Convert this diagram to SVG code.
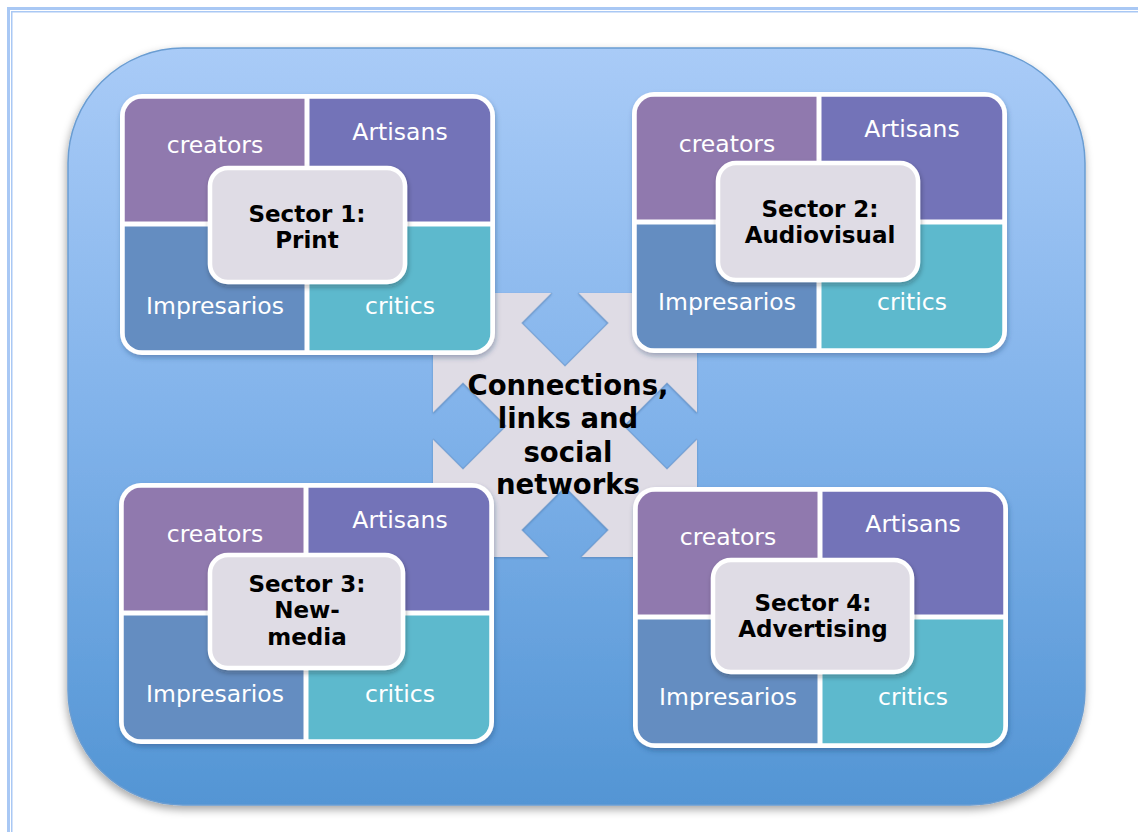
<svg xmlns="http://www.w3.org/2000/svg" xmlns:xlink="http://www.w3.org/1999/xlink" width="1138" height="832" viewBox="0 0 1138 832">
<style>
.lbl{font-family:"DejaVu Sans","Verdana",sans-serif;font-size:23.5px;fill:#ffffff;text-anchor:middle}
.sec{font-family:"DejaVu Sans","Verdana",sans-serif;font-size:23px;font-weight:bold;fill:#000000;text-anchor:middle}
.mid{font-family:"DejaVu Sans","Verdana",sans-serif;font-size:27.5px;font-weight:bold;fill:#000000;text-anchor:middle}
.cbox{fill:#dfdce5;stroke:#ffffff;stroke-width:4.5}
.frame{fill:#a9c8f4}
.notch{fill:none;stroke:#5f8fc6;stroke-width:1.2;stroke-opacity:0.55}
</style>
<defs>
<linearGradient id="bgGrad" gradientUnits="userSpaceOnUse" x1="0" y1="48" x2="0" y2="805">
<stop offset="0" stop-color="#a9cbf7"/>
<stop offset="0.5" stop-color="#80b2ea"/>
<stop offset="1" stop-color="#5395d4"/>
</linearGradient>
<filter id="bgShadow" x="-5%" y="-5%" width="110%" height="112%">
<feDropShadow dx="-1" dy="4" stdDeviation="4" flood-color="#000" flood-opacity="0.35"/>
</filter>
<filter id="cardShadow" x="-5%" y="-5%" width="112%" height="115%">
<feDropShadow dx="1" dy="3" stdDeviation="2.5" flood-color="#1a3a66" flood-opacity="0.35"/>
</filter>
<filter id="boxShadow" x="-10%" y="-10%" width="125%" height="130%">
<feDropShadow dx="1" dy="3" stdDeviation="2.5" flood-color="#222" flood-opacity="0.3"/>
</filter>
<filter id="hubShadow" x="-5%" y="-5%" width="110%" height="110%">
<feDropShadow dx="0" dy="1" stdDeviation="1.2" flood-color="#1a3a66" flood-opacity="0.3"/>
</filter>
<clipPath id="cardClip" clipPathUnits="userSpaceOnUse">
<rect x="4.5" y="4.5" width="366" height="252" rx="18"/>
</clipPath>
<g id="cardBase">
<rect x="0" y="0" width="375" height="261" rx="22" fill="#ffffff" filter="url(#cardShadow)"/>
<g clip-path="url(#cardClip)">
<rect x="4.5" y="4.5" width="180" height="123" fill="#9079ae"/>
<rect x="189.5" y="4.5" width="181" height="123" fill="#7373b8"/>
<rect x="4.5" y="132.5" width="180" height="124" fill="#648dc1"/>
<rect x="189.5" y="132.5" width="181" height="124" fill="#5db9cd"/>
</g>
</g>
</defs>

<g id="page-frame">
<rect class="frame" x="7" y="7" width="1131" height="3"/>
<rect class="frame" x="11" y="11" width="1127" height="1.5"/>
<rect class="frame" x="7" y="7" width="3" height="825"/>
<rect class="frame" x="11" y="11" width="1.5" height="821"/>
</g>

<g id="background">
<rect x="68" y="48" width="1017" height="757" rx="115" fill="url(#bgGrad)" stroke="#6a9dd2" stroke-width="1.5" filter="url(#bgShadow)"/>
</g>

<g id="hub">
<polygon fill="#dfdce5" filter="url(#hubShadow)" points="433,293 552,293 522,323 565,366 608,323 578,293 697,293 697,413 667,383 624,426 667,469 697,439 697,557 581,557 608,530 565,487 522,530 549,557 433,557 433,439 463,469 506,426 463,383 433,413"/>
<polyline class="notch" points="552,293 522,323 565,366 608,323 578,293"/>
<polyline class="notch" points="697,413 667,383 624,426 667,469 697,439"/>
<polyline class="notch" points="581,557 608,530 565,487 522,530 549,557"/>
<polyline class="notch" points="433,439 463,469 506,426 463,383 433,413"/>
<text class="mid" x="568" y="395">Connections,</text>
<text class="mid" x="568" y="428">links and</text>
<text class="mid" x="568" y="462">social</text>
<text class="mid" x="568" y="494">networks</text>
</g>

<g id="sector1" transform="translate(120,94)">
<use xlink:href="#cardBase"/>
<text class="lbl" x="95" y="59">creators</text>
<text class="lbl" x="280" y="46">Artisans</text>
<text class="lbl" x="95" y="220">Impresarios</text>
<text class="lbl" x="280" y="220">critics</text>
<rect class="cbox" x="90" y="74" width="195" height="114" rx="18" filter="url(#boxShadow)"/>
<text class="sec" x="187" y="128">Sector 1:</text>
<text class="sec" x="187" y="154">Print</text>
</g>

<g id="sector2" transform="translate(632,92)">
<use xlink:href="#cardBase"/>
<text class="lbl" x="95" y="60">creators</text>
<text class="lbl" x="280" y="45">Artisans</text>
<text class="lbl" x="95" y="218">Impresarios</text>
<text class="lbl" x="280" y="218">critics</text>
<rect class="cbox" x="86" y="71" width="200" height="117" rx="18" filter="url(#boxShadow)"/>
<text class="sec" x="188" y="125">Sector 2:</text>
<text class="sec" x="188" y="151">Audiovisual</text>
</g>

<g id="sector3" transform="translate(119,483)">
<use xlink:href="#cardBase"/>
<text class="lbl" x="96" y="59">creators</text>
<text class="lbl" x="281" y="45">Artisans</text>
<text class="lbl" x="96" y="219">Impresarios</text>
<text class="lbl" x="281" y="219">critics</text>
<rect class="cbox" x="91" y="72" width="193" height="113" rx="18" filter="url(#boxShadow)"/>
<text class="sec" x="188" y="109">Sector 3:</text>
<text class="sec" x="188" y="135">New-</text>
<text class="sec" x="188" y="162">media</text>
</g>

<g id="sector4" transform="translate(633,487)">
<use xlink:href="#cardBase"/>
<text class="lbl" x="95" y="58">creators</text>
<text class="lbl" x="280" y="45">Artisans</text>
<text class="lbl" x="95" y="218">Impresarios</text>
<text class="lbl" x="280" y="218">critics</text>
<rect class="cbox" x="80" y="73" width="199" height="112" rx="18" filter="url(#boxShadow)"/>
<text class="sec" x="180" y="124">Sector 4:</text>
<text class="sec" x="180" y="150">Advertising</text>
</g>
</svg>
